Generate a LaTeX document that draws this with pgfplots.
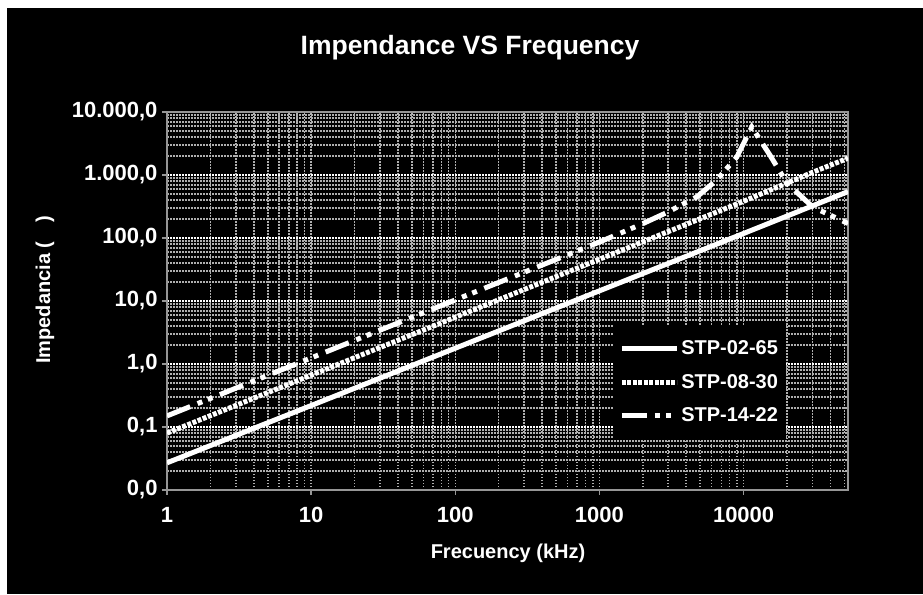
\documentclass[border=0pt]{standalone}
\usepackage{pgfplots}
\pgfplotsset{compat=1.18}
\usepackage{fontspec}
\setmainfont{Liberation Sans}
\definecolor{gridgray}{RGB}{175,175,175}
\definecolor{framegray}{RGB}{150,150,150}

\begin{document}
\begin{tikzpicture}[x=1pt,y=1pt]
\useasboundingbox (0,0) rectangle (923,594);
\fill[white] (0,0) rectangle (923,594);
\fill[black] (7,0) rectangle (923,586);
\node[text=white,font=\fontsize{26.5}{30}\selectfont\bfseries] at (470,546) {Impendance VS Frequency};
\node[text=white,font=\fontsize{20}{24}\selectfont\bfseries,rotate=90] at (45,304) {Impedancia (\hphantom{W})};
\node[text=white,font=\fontsize{20}{24}\selectfont\bfseries] at (508,41) {Frecuency (kHz)};
\begin{axis}[
  at={(167pt,104pt)}, anchor=south west,
  scale only axis, width=681pt, height=378pt,
  xmode=log, ymode=log,
  xmin=1, xmax=53000, ymin=0.01, ymax=10000,
  axis background/.style={fill=black},
  axis line style={draw=framegray, line width=2pt},
  xtick={1,10,100,1000,10000},
  xticklabels={1,10,100,1000,10000},
  ytick={0.01,0.1,1,10,100,1000,10000},
  yticklabels={{0,0},{0,1},{1,0},{10,0},{100,0},{1.000,0},{10.000,0}},
  minor xtick={2,3,4,5,6,7,8,9,10,20,30,40,50,60,70,80,90,100,200,300,400,500,600,700,800,900,1000,2000,3000,4000,5000,6000,7000,8000,9000,10000,20000,30000,40000,50000},
  minor ytick={0.02,0.03,0.04,0.05,0.06,0.07,0.08,0.09,0.2,0.3,0.4,0.5,0.6,0.7,0.8,0.9,2,3,4,5,6,7,8,9,20,30,40,50,60,70,80,90,200,300,400,500,600,700,800,900,2000,3000,4000,5000,6000,7000,8000,9000},
  xmajorgrids=false, xminorgrids=true, ymajorgrids=true, yminorgrids=true,
  major grid style={white, line width=2.5pt, dash pattern=on 2pt off 1pt},
  minor grid style={gridgray, line width=1.5pt, dash pattern=on 1.5pt off 1.5pt},
  tick pos=left, tick align=outside,
  major tick length=5pt, minor tick length=0pt,
  every tick/.style={framegray, line width=1.5pt},
  /pgf/number format/assume math mode=true,
  ticklabel style={text=white, font=\fontsize{22}{26}\selectfont\bfseries},
  xticklabel style={yshift=-9pt},
  yticklabel style={xshift=-1pt},
  legend style={at={(0.655,0.437)}, anchor=north west, fill=black, draw=none,
    text=white, font=\fontsize{20}{24}\selectfont\bfseries,
    inner xsep=6pt, inner ysep=14pt, row sep=14pt},
  legend cell align=left,
  legend image code/.code={\draw[#1] (0pt,0pt) -- (55pt,0pt);},
]
\addplot[white, line width=5pt] coordinates {
 (1,0.027) (10,0.219) (100,1.78) (1000,14.5) (10000,118) (53000,545)};
\addlegendentry{STP-02-65}
\addplot[white, line width=5pt, dash pattern=on 4pt off 1.5pt] coordinates {
 (1,0.08) (10,0.665) (100,5.53) (1000,46) (10000,383) (30000,1100) (53000,1850)};
\addlegendentry{STP-08-30}
\addplot[white, line width=5pt, dash pattern=on 25pt off 8pt on 5pt off 6pt on 5pt off 8pt] coordinates {
 (1,0.15) (10,1.25) (100,10.4) (1000,86.3) (2000,169) (3000,260) (4730,448)
 (6520,834) (8970,1930) (11400,5780) (15200,2080) (19950,746) (30200,310) (53000,170)};
\addlegendentry{STP-14-22}
\end{axis}
\end{tikzpicture}
\end{document}
